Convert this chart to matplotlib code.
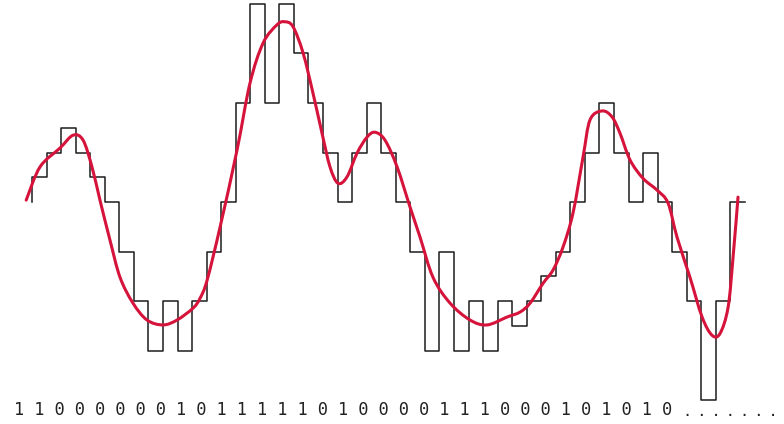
"""
Delta modulation sketch: quantised staircase, analogue signal and bit stream.
"""

import numpy as np
import matplotlib
matplotlib.use("Agg")
import matplotlib.pyplot as plt
from matplotlib.path import Path
from matplotlib.patches import PathPatch

# staircase levels, one per clock step
step_levels = [0.5, 1, 1.5, 1, 0.5, 0, -1, -2, -3, -2, -3, -2, -1, 0, 2, 4,
               2, 4, 3, 2, 1, 0, 1, 2, 1, 0, -1, -3, -1, -3, -2, -3, -2, -2.5,
               -2, -1.5, -1, 0, 1, 2, 1, 0, 1, 0, -1, -2, -4, -2, 0]
start_level = 0

# analogue signal (time in clock steps)
sig_t = [-0.4, 0.55, 1.92, 2.82, 3.51, 4.12, 4.67, 5.36, 6.05, 6.94, 7.90,
         9.00, 9.97, 11.07, 11.55, 12.03, 12.92, 14.09, 14.98, 15.88, 16.84,
         17.39, 17.94, 18.63, 19.31, 19.93, 20.48, 21.03, 21.65, 22.34, 23.02,
         23.57, 24.26, 25.09, 25.98, 26.67, 27.56, 28.73, 30.10, 31.27, 32.65,
         33.54, 34.23, 35.12, 35.81, 36.49, 37.18, 37.87, 38.35, 39.18, 39.86,
         40.41, 41.10, 41.99, 42.96, 43.71, 44.33, 45.22, 46.05, 46.74, 47.29,
         47.84, 48.18, 48.52]
sig_v = [0.04, 0.71, 1.09, 1.35, 1.25, 0.71, 0.04, -0.77, -1.52, -2.04, -2.38,
         -2.48, -2.38, -2.14, -1.94, -1.58, -0.51, 1.05, 2.40, 3.21, 3.58,
         3.64, 3.54, 3.01, 2.20, 1.39, 0.71, 0.38, 0.51, 0.99, 1.31,
         1.41, 1.25, 0.71, -0.10, -0.71, -1.52, -2.04, -2.38, -2.48, -2.32,
         -2.22, -2.04, -1.64, -1.37, -0.91, -0.22, 0.91, 1.66, 1.84, 1.72,
         1.39, 0.85, 0.48, 0.24, -0.02, -0.71, -1.52, -2.32, -2.69, -2.65,
         -2.12, -1.11, 0.10]

bits = "110000001011111010000111000101010"


def smooth_path(x, y):
    # bezier path through every point (catmull-rom tangents)
    p = np.column_stack([x, y])
    verts = [p[0]]
    codes = [Path.MOVETO]
    for i in range(len(p) - 1):
        p0 = p[i - 1] if i > 0 else p[i]
        p3 = p[i + 2] if i + 2 < len(p) else p[i + 1]
        c1 = p[i] + (p[i + 1] - p0) / 6
        c2 = p[i + 1] - (p3 - p[i]) / 6
        verts += [c1, c2, p[i + 1]]
        codes += [Path.CURVE4] * 3
    return Path(verts, codes)


fig = plt.figure(figsize=(7.84, 4.24), dpi=100)
ax = fig.add_axes([0, 0, 1, 1])
ax.set_xlim(-2.2, 51.68)
ax.set_ylim(-4.48, 4.08)
ax.axis("off")

n = len(step_levels)
xs = np.concatenate([[0], np.arange(n + 1)])
ys = np.concatenate([[start_level], step_levels, [step_levels[-1]]])
ax.plot(xs, ys, drawstyle="steps-post", color="#1c1c1c", lw=1.1, zorder=1)

ax.add_patch(PathPatch(smooth_path(sig_t, sig_v), fill=False,
                       edgecolor="#d5133b", lw=2.2, capstyle="round",
                       joinstyle="round", zorder=2))

fig.text(14 / 784, 1 - 410 / 424, " ".join(bits), family="DejaVu Sans Mono",
         fontsize=12.2, va="center", ha="left", color="#222222")
fig.text(684 / 784, 1 - 412 / 424, ". . . . . . .", family="DejaVu Sans Mono",
         fontsize=8.6, va="center", ha="left", color="#222222",
         fontweight="bold")

fig.savefig("out.png", dpi=100)
